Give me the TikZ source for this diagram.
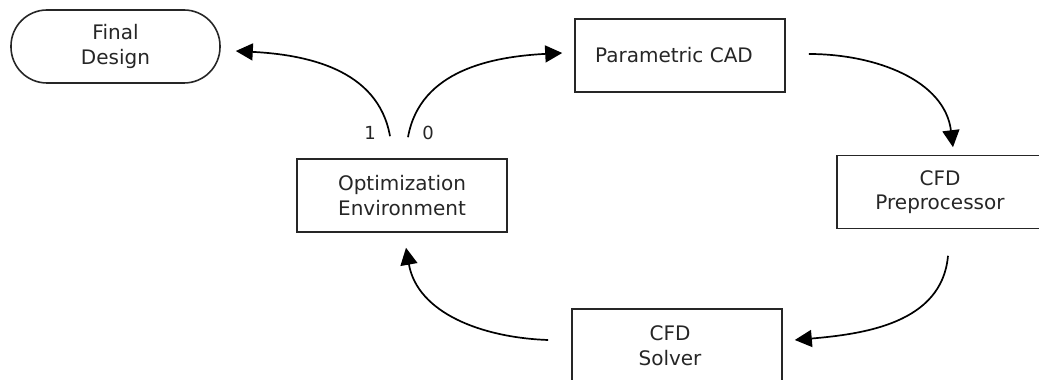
\documentclass[tikz,border=0pt]{standalone}
\usepackage{fontspec}
\setmainfont{DejaVu Sans}
\usetikzlibrary{arrows.meta,calc}
\begin{document}
\begin{tikzpicture}[x=1pt,y=1pt,
  box/.style={draw=black!85, line width=1.6pt, minimum width=210pt, minimum height=73pt,
    inner sep=0pt, align=center, font=\fontsize{20}{24.5}\selectfont, text=black!85},
  pill/.style={box, minimum width=209pt, rounded corners=36pt},
  arr/.style={line width=1.7pt, -{Triangle[length=17pt,width=17pt]}},
  lbl/.style={font=\fontsize{18}{20}\selectfont, text=black!85}]
\useasboundingbox (0,0) rectangle (1039,380);
\clip (0,0) rectangle (1039,380);
\node[pill] (fd) at (115.5,333.5) {Final\\Design};
\node[box] (opt) at (402,184.5) {Optimization\\Environment};
\node[box] (cad) at (680,324.5) {\hspace*{-12pt}Parametric CAD};
\node[box, minimum width=214pt] (pre) at (944,188) {\hspace*{-8pt}CFD\\\hspace*{-8pt}Preprocessor};
\node[box] (sol) at (677,34.5) {\hspace*{-14pt}CFD\\\hspace*{-14pt}Solver};
\coordinate (o1) at ($(opt.north)+(-12,22)$);
\coordinate (o0) at ($(opt.north)+(6,21)$);
\coordinate (fdin) at ($(fd.east)+(15,-4.5)$);
\coordinate (cadin) at ($(cad.west)+(-12,2.5)$);
\coordinate (cadout) at ($(cad.east)+(23,1.5)$);
\coordinate (prein) at ($(pre.north)+(9,7.5)$);
\coordinate (preout) at ($(pre.south)+(4,-26.5)$);
\coordinate (solin) at ($(sol.east)+(12,5.5)$);
\coordinate (solout) at ($(sol.west)+(-23,5.5)$);
\coordinate (optin) at ($(opt.south)+(4,-15)$);
\draw[arr] (o1) to[out=100,in=-3] (fdin);
\draw[arr] (o0) to[out=80,in=183] (cadin);
\draw[arr] (cadout) to[out=0,in=97] (prein);
\draw[arr] (preout) to[out=-95,in=5] (solin);
\draw[arr] (solout) to[out=178,in=-80] (optin);
\node[lbl] (l1) at (370,247) {1};
\node[lbl] (l0) at (428,247) {0};
\end{tikzpicture}
\end{document}
